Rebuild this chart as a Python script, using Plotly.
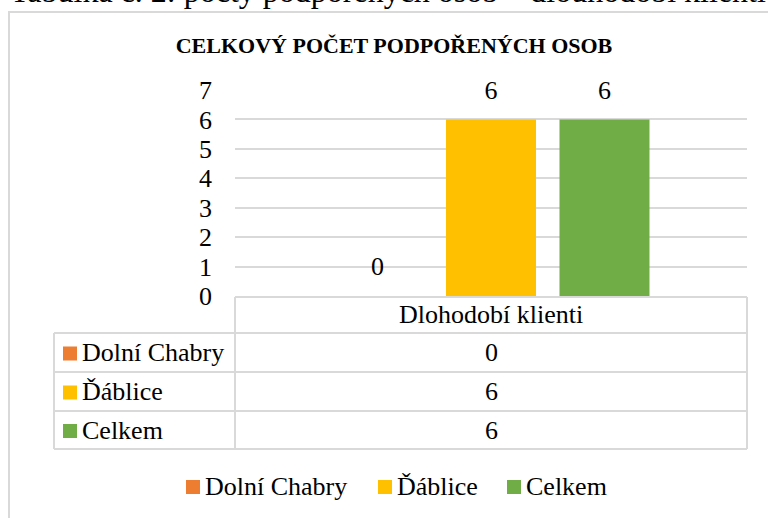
import plotly.graph_objects as go

# ---- data ----
categories = ["Dlohodobí klienti"]
series_names = ["Dolní Chabry", "Ďáblice", "Celkem"]
series_values = [[0], [6], [6]]
series_colors = ["#ED7D31", "#FFC000", "#70AD47"]
y_ticks = [0, 1, 2, 3, 4, 5, 6, 7]
chart_title = "CELKOVÝ POČET PODPOŘENÝCH OSOB"
caption = "Tabulka č. 2: počty podpořených osob – dlouhodobí klienti"

# ---- layout geometry (pixels) ----
FW, FH = 768, 518
L, R, T, B = 235, 747, 90, 296
PW, PH = R - L, B - T
FONT = "Liberation Serif"
FS = 26
GRID = "#D9D9D9"


def xp(px):
    return (px - L) / PW


def yp(py):
    return (B - py) / PH


fig = go.Figure()

for name, vals, col in zip(series_names, series_values, series_colors):
    fig.add_trace(go.Bar(
        x=categories, y=vals, name=name, marker=dict(color=col, line=dict(width=0)),
        showlegend=False, hoverinfo="skip",
    ))

# invisible copies on an overlaid, shifted axis carry the value labels a bit higher
SHIFT = 0.4
for name, vals in zip(series_names, series_values):
    fig.add_trace(go.Bar(
        x=categories, y=vals, name=name, yaxis="y2",
        marker=dict(color="rgba(0,0,0,0)", line=dict(width=0)),
        text=[str(v) for v in vals], textposition="outside",
        textfont=dict(family=FONT, size=FS, color="#000000"),
        cliponaxis=False, showlegend=False, hoverinfo="skip",
    ))

shapes = []
annotations = []

# outer chart border (extends beyond the picture on right/bottom)
shapes.append(dict(type="rect", xref="paper", yref="paper",
                   x0=xp(9), x1=xp(820), y0=yp(12), y1=yp(560),
                   line=dict(color=GRID, width=2), fillcolor="rgba(0,0,0,0)", layer="below"))

# data table lines
row_lines = [333, 372, 411, 449]
TL = 54
line_style = dict(color=GRID, width=2)
shapes.append(dict(type="line", xref="paper", yref="paper", x0=xp(L), x1=xp(R), y0=yp(B + 1), y1=yp(B + 1), line=line_style))
for ry in row_lines:
    shapes.append(dict(type="line", xref="paper", yref="paper", x0=xp(TL), x1=xp(R), y0=yp(ry), y1=yp(ry), line=line_style))
shapes.append(dict(type="line", xref="paper", yref="paper", x0=xp(L), x1=xp(L), y0=yp(B + 1), y1=yp(row_lines[-1]), line=line_style))
shapes.append(dict(type="line", xref="paper", yref="paper", x0=xp(R), x1=xp(R), y0=yp(B + 1), y1=yp(row_lines[-1]), line=line_style))
shapes.append(dict(type="line", xref="paper", yref="paper", x0=xp(TL), x1=xp(TL), y0=yp(row_lines[0]), y1=yp(row_lines[-1]), line=line_style))

# header cell
annotations.append(dict(x=0.5, y=yp((B + row_lines[0]) / 2), xref="paper", yref="paper",
                        text=categories[0], showarrow=False, xanchor="center", yanchor="middle",
                        font=dict(family=FONT, size=FS, color="#000")))

for i, (name, vals, col) in enumerate(zip(series_names, series_values, series_colors)):
    top = row_lines[i]
    bot = row_lines[i + 1]
    cy = (top + bot) / 2
    shapes.append(dict(type="rect", xref="paper", yref="paper",
                       x0=xp(63), x1=xp(77), y0=yp(cy - 6), y1=yp(cy + 8),
                       fillcolor=col, line=dict(width=0)))
    annotations.append(dict(x=xp(80), y=yp(cy), xref="paper", yref="paper", text=name,
                            showarrow=False, xanchor="left", yanchor="middle",
                            font=dict(family=FONT, size=FS, color="#000")))
    annotations.append(dict(x=0.5, y=yp(cy), xref="paper", yref="paper", text=str(vals[0]),
                            showarrow=False, xanchor="center", yanchor="middle",
                            font=dict(family=FONT, size=FS, color="#000")))

# bottom legend
legend_x = [186, 378, 507]
LY = 486
for name, col, lx in zip(series_names, series_colors, legend_x):
    shapes.append(dict(type="rect", xref="paper", yref="paper",
                       x0=xp(lx), x1=xp(lx + 14), y0=yp(LY - 6), y1=yp(LY + 8),
                       fillcolor=col, line=dict(width=0)))
    annotations.append(dict(x=xp(lx + 17), y=yp(LY), xref="paper", yref="paper", text=name,
                            showarrow=False, xanchor="left", yanchor="middle",
                            font=dict(family=FONT, size=FS, color="#000")))

# cut-off caption above the chart
annotations.append(dict(x=xp(8), y=yp(-9), xref="paper", yref="paper", text=caption,
                        showarrow=False, xanchor="left", yanchor="middle",
                        font=dict(family=FONT, size=32, color="#000")))

fig.update_layout(
    width=FW, height=FH,
    margin=dict(l=L, r=FW - R, t=T, b=FH - B, pad=0),
    paper_bgcolor="white", plot_bgcolor="white",
    barmode="group", bargap=0.335, bargroupgap=0.207,
    title=dict(text="<b>" + chart_title + "</b>", x=394 / FW, y=1 - 45 / FH,
               xanchor="center", yanchor="middle", xref="container", yref="container",
               font=dict(family=FONT, size=22, color="#000")),
    xaxis=dict(range=[-0.5, 0.5], showticklabels=False, showgrid=False, zeroline=False,
               showline=False, ticks=""),
    yaxis=dict(range=[0, 7], tickvals=y_ticks, ticktext=[str(t) for t in y_ticks],
               showgrid=True, gridcolor=GRID, gridwidth=1.5, zeroline=False, showline=False,
               ticks="", ticklabelstandoff=22,
               tickfont=dict(family=FONT, size=FS, color="#000")),
    yaxis2=dict(range=[-SHIFT, 7 - SHIFT], overlaying="y", showgrid=False, zeroline=False,
                showticklabels=False, showline=False, ticks=""),
    shapes=shapes, annotations=annotations,
    showlegend=False,
)

fig.write_html("out.html", config={"displayModeBar": False},
               post_script="document.body.style.margin='0';")
